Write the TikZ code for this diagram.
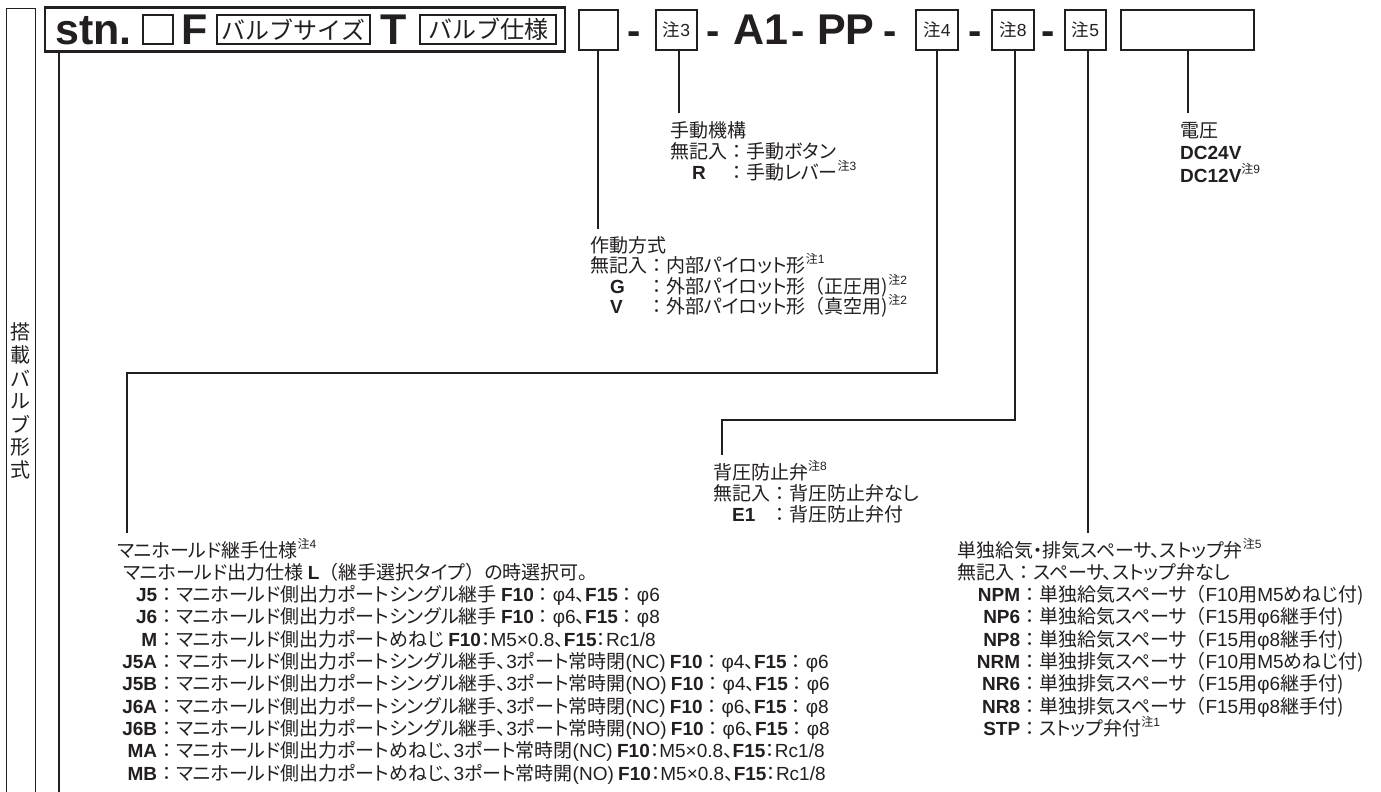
\documentclass[tikz,border=0pt]{standalone}
\usepackage{fontspec}
\setmainfont{Liberation Sans}
\newfontfamily\lsans{Liberation Sans}
\newfontfamily\jp[RawFeature=+palt]{Noto Sans CJK JP}
\newfontfamily\jpf{Noto Sans CJK JP}
\newcommand\fs{\fontsize{19}{22}\selectfont}
\newcommand\lb[1]{{\lsans\bfseries #1}}
\newcommand\lt[1]{{\lsans #1}}
\newcommand\cln{{\jpf ：}}
\newcommand\op{{\jpf （}}
\newcommand\cp{{\jpf ）}}
\newcommand\chu[1]{\raisebox{0.45em}{\fontsize{12}{12}\selectfont\jpf 注\lsans #1}}
\newcommand\cd[2]{\makebox[#1][r]{\lb{#2}}}
\newcommand\cdl[2]{\makebox[3em][l]{\hspace{#1}\lb{#2}}}
\definecolor{ink}{HTML}{231F20}
\tikzset{
  thickbox/.style={draw=ink, line width=2.3pt, inner sep=0, minimum height=40pt},
  thinbox/.style={draw=ink, line width=1.1pt, inner sep=0, minimum height=29pt},
  conn/.style={draw=ink, line width=1.3pt},
  txt/.style={anchor=base west, inner sep=0, text=ink, font=\jp\fs},
  bigtxt/.style={anchor=base west, inner sep=0, text=ink, font=\lsans\bfseries\fontsize{43}{43}\selectfont},
  dashtxt/.style={anchor=base, inner sep=0, text=ink, font=\lsans\bfseries\fontsize{40}{40}\selectfont},
  boxtxt/.style={text=ink, font=\jpf\fontsize{24}{24}\selectfont},
  notetxt/.style={text=ink, font=\jpf\fontsize{17.5}{17.5}\selectfont},
  vtxt/.style={inner sep=0, text=ink, font=\jpf\fontsize{20}{20}\selectfont},
}
\begin{document}
\begin{tikzpicture}[x=1pt, y=-1pt]
\useasboundingbox (0,0) rectangle (1381,792);
\fill[white] (0,0) rectangle (1381,792);

% left label column
\draw[ink, line width=0.9pt] (6,792) -- (6,8) -- (35,8) -- (35,792);
\foreach \c [count=\i] in {搭,載,バ,ル,ブ,形,式}
  \node[vtxt] (v\i) at (20.5, 309+23*\i) {\c};

% header
\node[draw=ink, line width=2.4pt, inner sep=0, minimum width=520pt, minimum height=44pt] (big) at (305,29.5) {};
\node[bigtxt] (stn) at (55,45) {stn.};
\node[thinbox, minimum width=30pt] (sq) at (158,29.5) {};
\node[bigtxt] (F) at (181,45) {F};
\node[thinbox, minimum width=153pt, boxtxt] (vs) at (293.5,29.5) {バルブサイズ};
\node[bigtxt] (T) at (380,45) {T};
\node[thinbox, minimum width=136pt, boxtxt] (vp) at (488,29.5) {バルブ仕様};

\node[thickbox, minimum width=39pt] (b1) at (598.5,30) {};
\node[dashtxt] (d1) at (634,45) {-};
\node[thickbox, minimum width=41pt, notetxt] (b3) at (676.5,30) {注\lt{3}};
\node[dashtxt] (d2) at (713,45) {-};
\node[bigtxt] (A1) at (733,45) {A1};
\node[dashtxt] (d3) at (798,45) {-};
\node[bigtxt] (PP) at (817,45) {PP};
\node[dashtxt] (d4) at (890,45) {-};
\node[thickbox, minimum width=42pt, notetxt] (b4) at (937,30) {注\lt{4}};
\node[dashtxt] (d5) at (975,45) {-};
\node[thickbox, minimum width=42pt, notetxt] (b8) at (1013,30) {注\lt{8}};
\node[dashtxt] (d6) at (1048,45) {-};
\node[thickbox, minimum width=41pt, notetxt] (b5) at (1085.5,30) {注\lt{5}};
\node[thickbox, minimum width=133pt] (bv) at (1187.5,30) {};

% connector end points
\coordinate (e0) at (59,792);
\coordinate (e1) at (598,229);
\coordinate (e3) at (679,113);
\coordinate (c4a) at (937,373);
\coordinate (c4b) at (127,373);
\coordinate (e4) at (127,533);
\coordinate (c8a) at (1015,420);
\coordinate (c8b) at (722,420);
\coordinate (e8) at (722,455);
\coordinate (e5) at (1088,533);
\coordinate (ev) at (1188,113);

\draw[ink, line width=2pt] (big.south -| e0) -- (e0);
\draw[conn] (b1.south -| e1) -- (e1);
\draw[conn] (b3.south -| e3) -- (e3);
\draw[conn] (b4.south -| c4a) -- (c4a) -- (c4b) -- (e4);
\draw[conn] (b8.south -| c8a) -- (c8a) -- (c8b) -- (e8);
\draw[conn] (b5.south -| e5) -- (e5);
\draw[conn] (bv.south -| ev) -- (ev);

% manual mechanism
\node[txt] (m1) at (670,137) {手動機構};
\node[txt] (m2) at (670,158) {無記入\cln 手動ボタン};
\node[txt] (m3) at (670,179) {\cdl{22pt}{R}\cln 手動レバー\chu{3}};

% voltage
\node[txt] (u1) at (1180,137) {電圧};
\node[txt] (u2) at (1180,159.5) {\lb{DC24V}};
\node[txt] (u3) at (1180,182) {\lb{DC12V}\chu{9}};

% actuation
\node[txt] (a1) at (590,252) {作動方式};
\node[txt] (a2) at (590,272.5) {無記入\cln 内部パイロット形\chu{1}};
\node[txt] (a3) at (590,293) {\cdl{20pt}{G}\cln 外部パイロット形\op 正圧用)\chu{2}};
\node[txt] (a4) at (590,313.5) {\cdl{20pt}{V}\cln 外部パイロット形\op 真空用)\chu{2}};

% back pressure
\node[txt] (p1) at (713,479) {背圧防止弁\chu{8}};
\node[txt] (p2) at (713,500) {無記入\cln 背圧防止弁なし};
\node[txt] (p3) at (713,521) {\cdl{19pt}{E1}\cln 背圧防止弁付};

% manifold fittings
\node[txt] (j0) at (117,557) {マニホールド継手仕様\chu{4}};
\node[txt] (j1) at (123,579.3) {マニホールド出力仕様 \lb{L}\op 継手選択タイプ\cp の時選択可。};
\node[txt] (j2) at (117,601.6) {\cd{40pt}{J5}\cln マニホールド側出力ポートシングル継手 \lb{F10}\cln\lt{φ4}、\lb{F15}\cln\lt{φ6}};
\node[txt] (j3) at (117,623.9) {\cd{40pt}{J6}\cln マニホールド側出力ポートシングル継手 \lb{F10}\cln\lt{φ6}、\lb{F15}\cln\lt{φ8}};
\node[txt] (j4) at (117,646.2) {\cd{40pt}{M}\cln マニホールド側出力ポートめねじ \lb{F10}：\lt{M5×0.8}、\lb{F15}：\lt{Rc1/8}};
\node[txt] (j5) at (117,668.5) {\cd{40pt}{J5A}\cln マニホールド側出力ポートシングル継手、\lt{3}ポート常時閉\lt{(NC)} \lb{F10}\cln\lt{φ4}、\lb{F15}\cln\lt{φ6}};
\node[txt] (j6) at (117,690.8) {\cd{40pt}{J5B}\cln マニホールド側出力ポートシングル継手、\lt{3}ポート常時開\lt{(NO)} \lb{F10}\cln\lt{φ4}、\lb{F15}\cln\lt{φ6}};
\node[txt] (j7) at (117,713.1) {\cd{40pt}{J6A}\cln マニホールド側出力ポートシングル継手、\lt{3}ポート常時閉\lt{(NC)} \lb{F10}\cln\lt{φ6}、\lb{F15}\cln\lt{φ8}};
\node[txt] (j8) at (117,735.4) {\cd{40pt}{J6B}\cln マニホールド側出力ポートシングル継手、\lt{3}ポート常時開\lt{(NO)} \lb{F10}\cln\lt{φ6}、\lb{F15}\cln\lt{φ8}};
\node[txt] (j9) at (117,757.7) {\cd{40pt}{MA}\cln マニホールド側出力ポートめねじ、\lt{3}ポート常時閉\lt{(NC)} \lb{F10}：\lt{M5×0.8}、\lb{F15}：\lt{Rc1/8}};
\node[txt] (j10) at (117,780) {\cd{40pt}{MB}\cln マニホールド側出力ポートめねじ、\lt{3}ポート常時開\lt{(NO)} \lb{F10}：\lt{M5×0.8}、\lb{F15}：\lt{Rc1/8}};

% spacers
\node[txt] (s0) at (957,557) {単独給気・排気スペーサ、ストップ弁\chu{5}};
\node[txt] (s1) at (957,579.3) {無記入\cln スペーサ、ストップ弁なし};
\node[txt] (s2) at (957,601.6) {\cd{63pt}{NPM}\cln 単独給気スペーサ\op\lt{F10}用\lt{M5}めねじ付)};
\node[txt] (s3) at (957,623.9) {\cd{63pt}{NP6}\cln 単独給気スペーサ\op\lt{F15}用\lt{φ6}継手付)};
\node[txt] (s4) at (957,646.2) {\cd{63pt}{NP8}\cln 単独給気スペーサ\op\lt{F15}用\lt{φ8}継手付)};
\node[txt] (s5) at (957,668.5) {\cd{63pt}{NRM}\cln 単独排気スペーサ\op\lt{F10}用\lt{M5}めねじ付)};
\node[txt] (s6) at (957,690.8) {\cd{63pt}{NR6}\cln 単独排気スペーサ\op\lt{F15}用\lt{φ6}継手付)};
\node[txt] (s7) at (957,713.1) {\cd{63pt}{NR8}\cln 単独排気スペーサ\op\lt{F15}用\lt{φ8}継手付)};
\node[txt] (s8) at (957,735.4) {\cd{63pt}{STP}\cln ストップ弁付\chu{1}};
\end{tikzpicture}
\end{document}
